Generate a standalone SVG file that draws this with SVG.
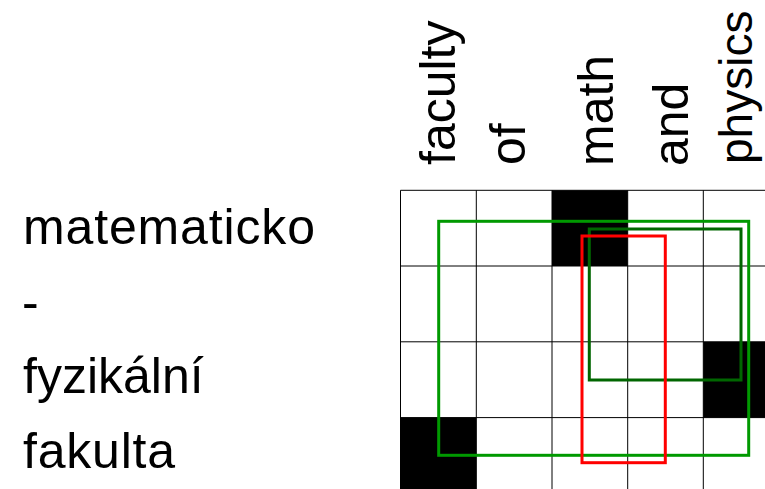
<svg xmlns="http://www.w3.org/2000/svg" width="765" height="489" viewBox="0 0 765 489">
  <style>
    .lbl { font-family: "Liberation Sans", Arial, sans-serif; font-size: 50px; fill: #000; }
    .cell { fill: #000; }
    .grid line { stroke: #000; stroke-width: 1; }
    .box { fill: none; stroke-width: 3; }
  </style>
  <rect width="765" height="489" fill="#fff"/>

  <!-- column labels (English), read bottom to top -->
  <g id="col-labels">
    <text class="lbl" transform="translate(455,165) rotate(-90)">faculty</text>
    <text class="lbl" transform="translate(525,165) rotate(-90)">of</text>
    <text class="lbl" transform="translate(613,166) rotate(-90)">math</text>
    <text class="lbl" transform="translate(688,166) rotate(-90)">and</text>
    <text class="lbl" transform="translate(752,164) rotate(-90)" style="font-size:46px">physics</text>
  </g>

  <!-- row labels (Czech) -->
  <g id="row-labels">
    <text class="lbl" x="23" y="244" textLength="292" lengthAdjust="spacing">matematicko</text>
    <text class="lbl" x="22" y="319">-</text>
    <text class="lbl" x="23" y="393">fyzikální</text>
    <text class="lbl" x="23" y="468" textLength="152" lengthAdjust="spacing">fakulta</text>
  </g>

  <!-- filled alignment cells -->
  <g id="cells">
    <rect class="cell" x="552" y="190.3" width="75.7" height="75.7"/>
    <rect class="cell" x="703.3" y="341.8" width="75.7" height="75.8"/>
    <rect class="cell" x="400.5" y="417.6" width="75.8" height="75.7"/>
  </g>

  <!-- grid -->
  <g class="grid" id="grid">
    <line x1="400.5" y1="190.3" x2="400.5" y2="489"/>
    <line x1="476.3" y1="190.3" x2="476.3" y2="489"/>
    <line x1="552" y1="190.3" x2="552" y2="489"/>
    <line x1="627.7" y1="190.3" x2="627.7" y2="489"/>
    <line x1="703.3" y1="190.3" x2="703.3" y2="489"/>
    <line x1="400.5" y1="190.3" x2="765" y2="190.3"/>
    <line x1="400.5" y1="266" x2="765" y2="266"/>
    <line x1="400.5" y1="341.8" x2="765" y2="341.8"/>
    <line x1="400.5" y1="417.6" x2="765" y2="417.6"/>
  </g>

  <!-- phrase boxes -->
  <g id="boxes">
    <rect id="box-outer" class="box" stroke="#009900" x="438.7" y="221.3" width="310" height="234"/>
    <rect id="box-inner" class="box" stroke="#006600" x="589.3" y="229" width="151.7" height="151"/>
    <rect id="box-red" class="box" stroke="#ff0000" x="582" y="236" width="83.3" height="226.7"/>
  </g>
</svg>
